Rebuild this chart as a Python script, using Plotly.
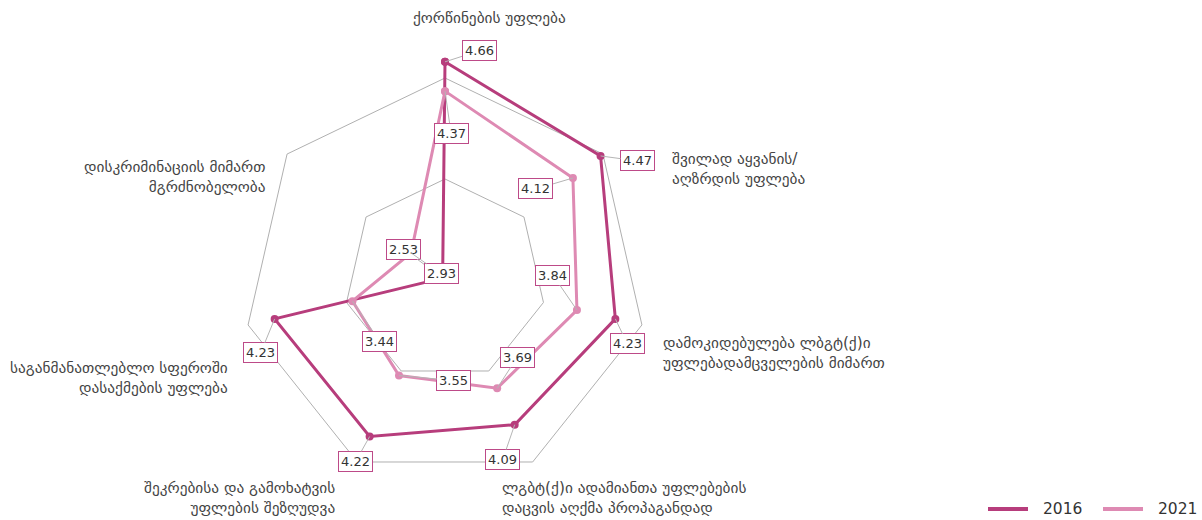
import math
import plotly.graph_objects as go

# ---------------- data ----------------
categories = [
    "ქორწინების უფლება",
    "შვილად აყვანის/ აღზრდის უფლება",
    "დამოკიდებულება ლბგტ(ქ)ი უფლებადამცველების მიმართ",
    "ლგბტ(ქ)ი ადამიანთა უფლებების დაცვის აღქმა პროპაგანდად",
    "შეკრებისა და გამოხატვის უფლების შეზღუდვა",
    "საგანმანათლებლო სფეროში დასაქმების უფლება",
    "დისკრიმინაციის მიმართ მგრძნობელობა",
]
category_labels = [
    "ქორწინების უფლება",
    "შვილად აყვანის/<br>აღზრდის უფლება",
    "დამოკიდებულება ლბგტ(ქ)ი<br>უფლებადამცველების მიმართ",
    "ლგბტ(ქ)ი ადამიანთა უფლებების<br>დაცვის აღქმა პროპაგანდად",
    "შეკრებისა და გამოხატვის<br>უფლების შეზღუდვა",
    "საგანმანათლებლო სფეროში<br>დასაქმების უფლება",
    "დისკრიმინაციის მიმართ<br>მგრძნობელობა",
]
series_names = ["2016", "2021"]
values_2016 = [4.66, 4.47, 4.23, 4.09, 4.22, 4.23, 2.53]
values_2021 = [4.37, 4.12, 3.84, 3.69, 3.55, 3.44, 2.93]
radial_ticks = [3.5, 4.5]
radial_range = [2.5, 4.7]

# ---------------- layout / styles ----------------
W, H = 1202, 520
CX, CY = 445, 280          # polar centre in pixels
PX_PER_UNIT = 101
R_PX = (radial_range[1] - radial_range[0]) * PX_PER_UNIT

colors = ["#b73d7c", "#de8ab3"]
border_color = "#bd4a88"
text_color = "#333333"
grid_color = "#b0b0b0"
FONT = "DejaVu Sans"

# label offsets (pixels, label centre relative to the point)
offsets_2016 = [(34, -11), (37, 5), (12, 25), (-12, 35), (-14, 25), (-14, 34), (-39, -29)]
offsets_2021 = [(6, 42), (-37, 11), (-24, -35), (20, -31), (55, 5), (27, 40), (30, 21)]

# category label positions (pixels) and anchors
cat_pos = [(489, 18, "center"), (670, 169, "left"), (661, 353, "left"),
           (500, 498, "left"), (337, 498, "right"), (230, 378, "right"),
           (268, 177, "right")]

# legend item positions (pixels): line start, line end, text x, y
legend_pos = [(988, 1028, 1041, 509), (1103, 1143, 1156, 509)]

fig = go.Figure()
for name, vals, col in zip(series_names, [values_2016, values_2021], colors):
    fig.add_trace(go.Scatterpolar(
        r=vals + vals[:1],
        theta=categories + categories[:1],
        mode="lines+markers",
        name=name,
        line=dict(color=col, width=3),
        marker=dict(color=col, size=8),
        hoverinfo="skip",
        showlegend=False,
    ))


def point_px(i, v):
    ang = math.radians(90 - i * 360 / len(categories))
    r = (v - radial_range[0]) * PX_PER_UNIT
    return CX + r * math.cos(ang), CY - r * math.sin(ang)


annotations = []
shapes = []
for vals, offs in [(values_2016, offsets_2016), (values_2021, offsets_2021)]:
    for i, (v, (dx, dy)) in enumerate(zip(vals, offs)):
        px, py = point_px(i, v)
        annotations.append(dict(
            x=px / W, y=1 - py / H, xref="paper", yref="paper",
            text=f"{v:.2f}", showarrow=True, arrowhead=0, arrowwidth=1,
            arrowcolor="#b5b5b5", ax=dx, ay=dy, standoff=0,
            font=dict(family=FONT, size=13, color=text_color),
            bgcolor="white", bordercolor=border_color, borderwidth=1, borderpad=2,
        ))

for lab, (px, py, anc) in zip(category_labels, cat_pos):
    annotations.append(dict(
        x=px / W, y=1 - py / H, xref="paper", yref="paper",
        text=lab, showarrow=False, xanchor=anc, yanchor="middle", align=anc,
        font=dict(family=FONT, size=15.3, color="#444444"),
    ))

# custom legend (line-only symbols)
for name, col, (x0, x1, tx, ly) in zip(series_names, colors, legend_pos):
    shapes.append(dict(type="line", xref="paper", yref="paper",
                       x0=x0 / W, x1=x1 / W, y0=1 - ly / H, y1=1 - ly / H,
                       line=dict(color=col, width=4)))
    annotations.append(dict(
        x=tx / W, y=1 - ly / H, xref="paper", yref="paper", text=name,
        showarrow=False, xanchor="left", yanchor="middle",
        font=dict(family=FONT, size=15.5, color=text_color),
    ))

fig.update_layout(
    width=W, height=H,
    margin=dict(l=0, r=0, t=0, b=0),
    paper_bgcolor="white",
    font=dict(family=FONT, color=text_color),
    polar=dict(
        domain=dict(x=[(CX - R_PX) / W, (CX + R_PX) / W],
                    y=[1 - (CY + R_PX) / H, 1 - (CY - R_PX) / H]),
        bgcolor="rgba(0,0,0,0)",
        gridshape="linear",
        radialaxis=dict(range=radial_range, tickvals=radial_ticks,
                        showticklabels=False, ticks="", showline=False,
                        gridcolor=grid_color, gridwidth=1),
        angularaxis=dict(direction="clockwise", rotation=90,
                         showticklabels=False, ticks="", showline=False,
                         showgrid=False),
    ),
    showlegend=False,
    annotations=annotations,
    shapes=shapes,
)

fig.write_html("out.html", config={"displayModeBar": False},
               post_script="document.body.style.margin='0';")
